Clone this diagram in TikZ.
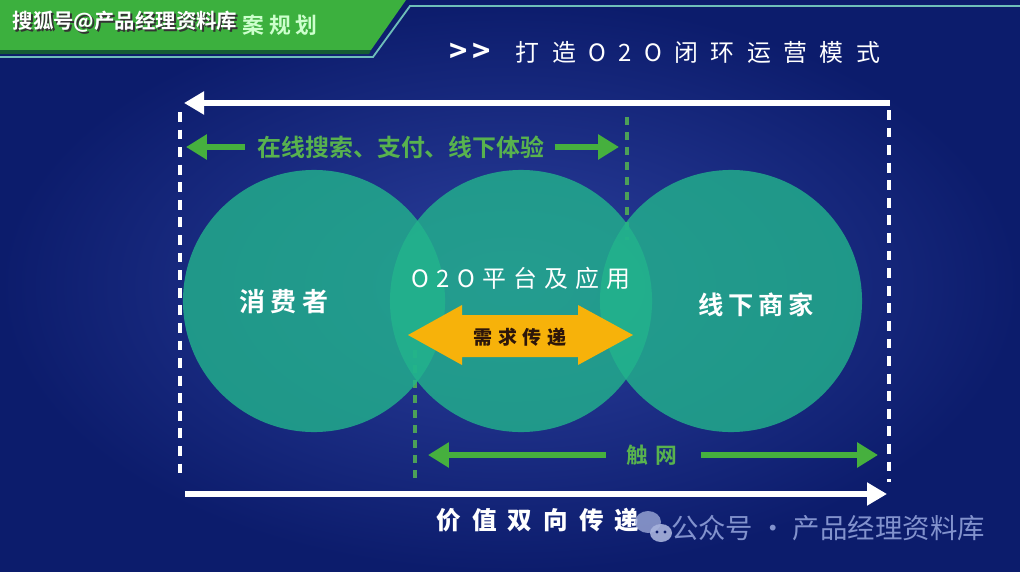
\documentclass[tikz,border=0pt]{standalone}
\usepackage{fontspec}
\setmainfont{Noto Sans CJK SC}[BoldFont={Noto Sans CJK SC Bold}]
\newfontfamily\heavy{Noto Sans CJK SC Black}
\usetikzlibrary{arrows.meta}
\definecolor{bgin}{RGB}{44,64,158}
\definecolor{bgout}{RGB}{12,28,108}
\definecolor{banner}{RGB}{60,176,62}
\definecolor{bannerdk}{RGB}{22,92,52}
\definecolor{bannerln}{RGB}{110,190,185}
\definecolor{discfill}{RGB}{34,180,140}
\definecolor{garrowc}{RGB}{70,176,62}
\definecolor{gtext}{RGB}{88,178,78}
\definecolor{gdashc}{RGB}{76,160,88}
\definecolor{yarrow}{RGB}{247,178,10}
\definecolor{ytext}{RGB}{45,22,10}
\definecolor{wmark}{RGB}{130,146,205}
\newcommand\fsz[1]{\fontsize{#1}{#1}\selectfont}
\begin{document}
\begin{tikzpicture}[x=0.025cm, y=-0.025cm,
    bubble/.style = {circle, fill=discfill, fill opacity=0.8, minimum size=6.55cm, inner sep=0pt},
    wtxt/.style = {white, inner sep=0pt},
    gtxt/.style = {gtext, font=\bfseries\fsz{17pt}, inner sep=0pt},
    wline/.style = {white, line width=3.6pt, -{Triangle[length=0.5cm, width=0.55cm]}},
    wdash/.style = {white, line width=2.8pt, dash pattern=on 7pt off 5.5pt},
    gdashed/.style = {gdashc, line width=2.3pt, dash pattern=on 5.7pt off 5pt},
    gline/.style = {garrowc, line width=4.3pt, -{Triangle[length=0.52cm, width=0.6cm]}}]
    \useasboundingbox (0,0) rectangle (1020,572);
    \shade[inner color=bgin, outer color=bgout] (0,0) rectangle (1020,572);
    % banner
    \fill[banner] (0,0) -- (406,0) -- (371,50) -- (0,50) -- cycle;
    \fill[bannerdk] (0,50) -- (371,50) -- (369,54) -- (0,54) -- cycle;
    \draw[bannerln, line width=1.3pt] (0,57) -- (373,57) -- (410,6) -- (1020,6);
    \node[text=green!20!white, inner sep=0pt, font=\bfseries\fsz{15.5pt}\addfontfeature{LetterSpace=20}] (plan) at (280,25) {案规划};
    \node[black!80, inner sep=0pt, font=\bfseries\fsz{14.5pt}] at (127,24) {搜狐号@产品经理资料库};
    \node[wtxt, font=\bfseries\fsz{14.5pt}] (sohu) at (125,22) {搜狐号@产品经理资料库};
    % title
    \node[wtxt, font=\bfseries\fsz{22pt}\addfontfeature{LetterSpace=15}] (chev) at (470,53) {>{}>};
    \node[wtxt, font=\fsz{17pt}\addfontfeature{LetterSpace=52}] (title) at (698,52) {打造O2O闭环运营模式};
    % green ranges (under the circles)
    \coordinate (g1) at (627,117);
    \coordinate (g2) at (627,240);
    \coordinate (g3) at (415,350);
    \coordinate (g4) at (415,482);
    \draw[gdashed] (g1) -- (g2);
    \draw[gdashed] (g3) -- (g4);
    % circles
    \node[bubble] (cons) at (314,301) {};
    \node[bubble] (plat) at (521,301) {};
    \node[bubble] (merc) at (731,301) {};
    \node[wtxt, font=\bfseries\fsz{18.5pt}\addfontfeature{LetterSpace=20}] (cons-t) at (284,302) {消费者};
    \node[wtxt, font=\fsz{17pt}\addfontfeature{LetterSpace=30}] (plat-t) at (521,278) {O2O平台及应用};
    \node[wtxt, font=\bfseries\fsz{18pt}\addfontfeature{LetterSpace=18}] (merc-t) at (756,305) {线下商家};
    % demand arrow
    \fill[yarrow] (408,335) -- (462,305) -- (462,315) -- (578,315) -- (578,305) -- (633,335)
        -- (578,365) -- (578,357) -- (462,357) -- (462,365) -- cycle;
    \node[ytext, inner sep=0pt, font=\heavy\fsz{13.5pt}\addfontfeature{LetterSpace=30}] (need) at (520,337) {需求传递};
    % white frame
    \coordinate (tr) at (890,103);
    \coordinate (tl) at (184,103);
    \coordinate (bl) at (185,494);
    \coordinate (br) at (887,494);
    \coordinate (l1) at (180,112);
    \coordinate (l2) at (180,480);
    \coordinate (r1) at (889,110);
    \coordinate (r2) at (889,482);
    \draw[wline] (tr) -- (tl);
    \draw[wline] (bl) -- (br);
    \draw[wdash] (l1) -- (l2);
    \draw[wdash] (r1) -- (r2);
    \node[wtxt, font=\heavy\fsz{17.5pt}\addfontfeature{LetterSpace=45}] (value) at (538,520) {价值双向传递};
    % green arrows
    \node[gtxt] (search) at (401,147) {在线搜索、支付、线下体验};
    \coordinate (sl) at (186,147);
    \coordinate (sr) at (619,147);
    \draw[gline] ([xshift=-9]search.west) -- (sl);
    \draw[gline] ([xshift=7]search.east) -- (sr);
    \node[gtxt, font=\bfseries\fsz{15.5pt}\addfontfeature{LetterSpace=30}] (touch) at (652,455) {触网};
    \coordinate (tl2) at (428,455);
    \coordinate (tr2) at (878,455);
    \draw[gline] ([xshift=-15]touch.west) -- (tl2);
    \draw[gline] ([xshift=17]touch.east) -- (tr2);
    % watermark
    \fill[wmark!80!white, opacity=0.8] (648,522) ellipse (13 and 11);
    \fill[wmark!70!white, opacity=0.9] (661,533) ellipse (11 and 9);
    \fill[bgout] (657,532) circle (1.6) (665,532) circle (1.6);
    \node[wmark, inner sep=0pt, font=\fsz{19.5pt}] (wx) at (828,528) {公众号 · 产品经理资料库};
\end{tikzpicture}
\end{document}
